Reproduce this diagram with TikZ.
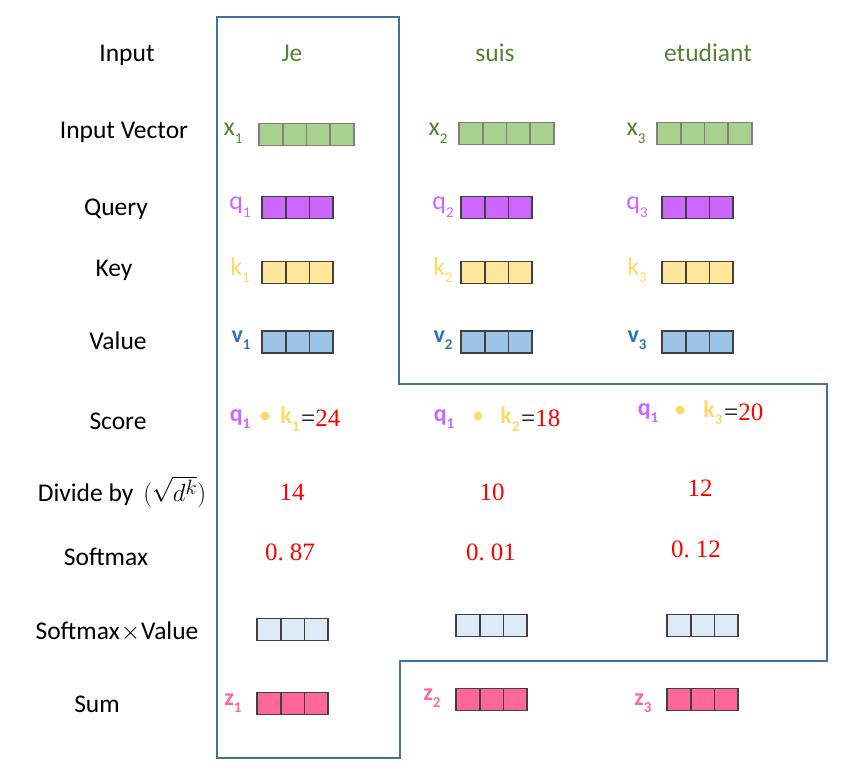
\documentclass[tikz,border=0pt]{standalone}
\usepackage{fontspec}
\setmainfont{Carlito}
\newfontfamily\numfont{Liberation Serif}
\definecolor{wgreen}{HTML}{548235}
\definecolor{cgreen}{HTML}{A9D18E}
\definecolor{cgray}{HTML}{7F7F7F}
\definecolor{cdark}{HTML}{404040}
\definecolor{qpur}{HTML}{CC66FF}
\definecolor{kyel}{HTML}{FFD966}
\definecolor{cyel}{HTML}{FFE699}
\definecolor{vblu}{HTML}{2E75B6}
\definecolor{cblu}{HTML}{9DC3E6}
\definecolor{clbl}{HTML}{DEEBF7}
\definecolor{zpnk}{HTML}{FF6699}
\definecolor{nred}{HTML}{FF0000}
\definecolor{frame}{HTML}{41719C}
\newcommand\lblsub[2]{#1\raisebox{-0.3em}{\fontsize{15}{15}\selectfont #2}}
\newcommand\cellrow[5]{%
  \foreach \i in {1,...,#4}{%
    \node[#5, anchor=west] (#1\i) at ({#2+(\i-1)*23.7}, #3) {};
  }}
\begin{document}
\begin{tikzpicture}[x=1pt,y=-1pt,
  lab/.style={font=\fontsize{25.5}{30}\selectfont, inner sep=0, text height=0.66em, text depth=0.2em, yshift=-6pt},
  word/.style={lab, text=wgreen},
  sublab/.style={font=\fontsize{26}{28}\selectfont, inner sep=0},
  bsublab/.style={sublab, font=\bfseries\fontsize{24}{28}\selectfont},
  num/.style={font=\numfont\fontsize{25}{28}\selectfont, text=nred, inner sep=0},
  cell/.style={draw=cdark, line width=1.8pt, minimum width=23.7pt, minimum height=22pt, inner sep=0, outer sep=0},
  gcell/.style={cell, fill=cgreen, draw=cgray},
  qcell/.style={cell, fill=qpur},
  kcell/.style={cell, fill=cyel},
  vcell/.style={cell, fill=cblu},
  scell/.style={cell, fill=clbl},
  zcell/.style={cell, fill=zpnk},
  dotn/.style={circle, fill=kyel, minimum size=9pt, inner sep=0},
]
\useasboundingbox (0,0) rectangle (844,776);

% frame
\draw[frame, line width=2pt] (217,17) -- (399,17) -- (399,384) -- (827,384) -- (827,661)
  -- (400,661) -- (400,758) -- (217,758) -- cycle;

% row labels
\node[lab] (lInput) at (127,53) {Input};
\node[lab] (lVec) at (124,130) {Input Vector};
\node[lab] (lQuery) at (116,207) {Query};
\node[lab] (lKey) at (114,268) {Key};
\node[lab] (lValue) at (118,341) {Value};
\node[lab] (lScore) at (118,421) {Score};
\node[lab] (lDiv) at (122,493) {Divide by\hspace{10pt}{\fontsize{29}{32}\selectfont$(\sqrt{d^k})$}};
\node[lab] (lSoft) at (106,557) {Softmax};
\node[lab] (lSV) at (117,631) {Softmax\hspace{1pt}{\fontsize{28}{30}\selectfont$\times$}\hspace{1pt}Value};
\node[lab] (lSum) at (97,704) {Sum};

% words
\node[word] (w1) at (292,53) {Je};
\node[word] (w2) at (495,53) {suis};
\node[word] (w3) at (708,53) {etudiant};

% input vectors
\node[sublab, text=wgreen] (x1l) at (233,133) {\lblsub{x}{1}};
\node[sublab, text=wgreen] (x2l) at (438,133) {\lblsub{x}{2}};
\node[sublab, text=wgreen] (x3l) at (636,133) {\lblsub{x}{3}};
\cellrow{xa}{259}{134.5}{4}{gcell}
\cellrow{xb}{459}{133.5}{4}{gcell}
\cellrow{xc}{657}{133.5}{4}{gcell}

% queries
\node[sublab, text=qpur] (q1l) at (240,207) {\lblsub{q}{1}};
\node[sublab, text=qpur] (q2l) at (443,207) {\lblsub{q}{2}};
\node[sublab, text=qpur] (q3l) at (637,207) {\lblsub{q}{3}};
\cellrow{qa}{262}{207.5}{3}{qcell}
\cellrow{qb}{461}{207.5}{3}{qcell}
\cellrow{qc}{662}{207.5}{3}{qcell}

% keys
\node[sublab, text=kyel] (k1l) at (240,270) {\lblsub{k}{1}};
\node[sublab, text=kyel] (k2l) at (443,270) {\lblsub{k}{2}};
\node[sublab, text=kyel] (k3l) at (637,270) {\lblsub{k}{3}};
\cellrow{ka}{262}{272.5}{3}{kcell}
\cellrow{kb}{461}{272.5}{3}{kcell}
\cellrow{kc}{662}{272.5}{3}{kcell}

% values
\node[bsublab, text=vblu] (v1l) at (241,340) {\lblsub{v}{1}};
\node[bsublab, text=vblu] (v2l) at (443,340) {\lblsub{v}{2}};
\node[bsublab, text=vblu] (v3l) at (637,340) {\lblsub{v}{3}};
\cellrow{va}{262}{342}{3}{vcell}
\cellrow{vb}{461}{342}{3}{vcell}
\cellrow{vc}{662}{342}{3}{vcell}

% scores
\node[bsublab, text=qpur] (sq1) at (240,419) {\lblsub{q}{1}};
\node[dotn] (sd1) at (265,416) {};
\node[bsublab, text=kyel] (sk1) at (290,419) {\lblsub{k}{1}};
\node[num, anchor=west] (s1) at (301,418) {\textcolor{black}{=}24};

\node[bsublab, text=qpur] (sq2) at (444,419) {\lblsub{q}{1}};
\node[dotn] (sd2) at (478,416) {};
\node[bsublab, text=kyel] (sk2) at (510,419) {\lblsub{k}{2}};
\node[num, anchor=west] (s2) at (521,418) {\textcolor{black}{=}18};

\node[bsublab, text=qpur] (sq3) at (648,413) {\lblsub{q}{1}};
\node[dotn] (sd3) at (680,410) {};
\node[bsublab, text=kyel] (sk3) at (713,413) {\lblsub{k}{3}};
\node[num, anchor=west] (s3) at (724,412) {\textcolor{black}{=}20};

% divided
\node[num] (dv1) at (292,492) {14};
\node[num] (dv2) at (492,492) {10};
\node[num] (dv3) at (700,488) {12};

% softmax
\node[num] (sm1) at (290,552) {0.\hspace{6pt}87};
\node[num] (sm2) at (491,552) {0.\hspace{6pt}01};
\node[num] (sm3) at (696,549) {0.\hspace{6pt}12};

% softmax x value
\cellrow{sa}{257}{629.5}{3}{scell}
\cellrow{sb}{456}{625.5}{3}{scell}
\cellrow{sc}{667}{625.5}{3}{scell}

% sums
\node[bsublab, text=zpnk] (z1l) at (233,703) {\lblsub{z}{1}};
\node[bsublab, text=zpnk] (z2l) at (432,698) {\lblsub{z}{2}};
\node[bsublab, text=zpnk] (z3l) at (643,703) {\lblsub{z}{3}};
\cellrow{za}{257}{703.5}{3}{zcell}
\cellrow{zb}{456}{699.5}{3}{zcell}
\cellrow{zc}{667}{699.5}{3}{zcell}
\end{tikzpicture}
\end{document}
